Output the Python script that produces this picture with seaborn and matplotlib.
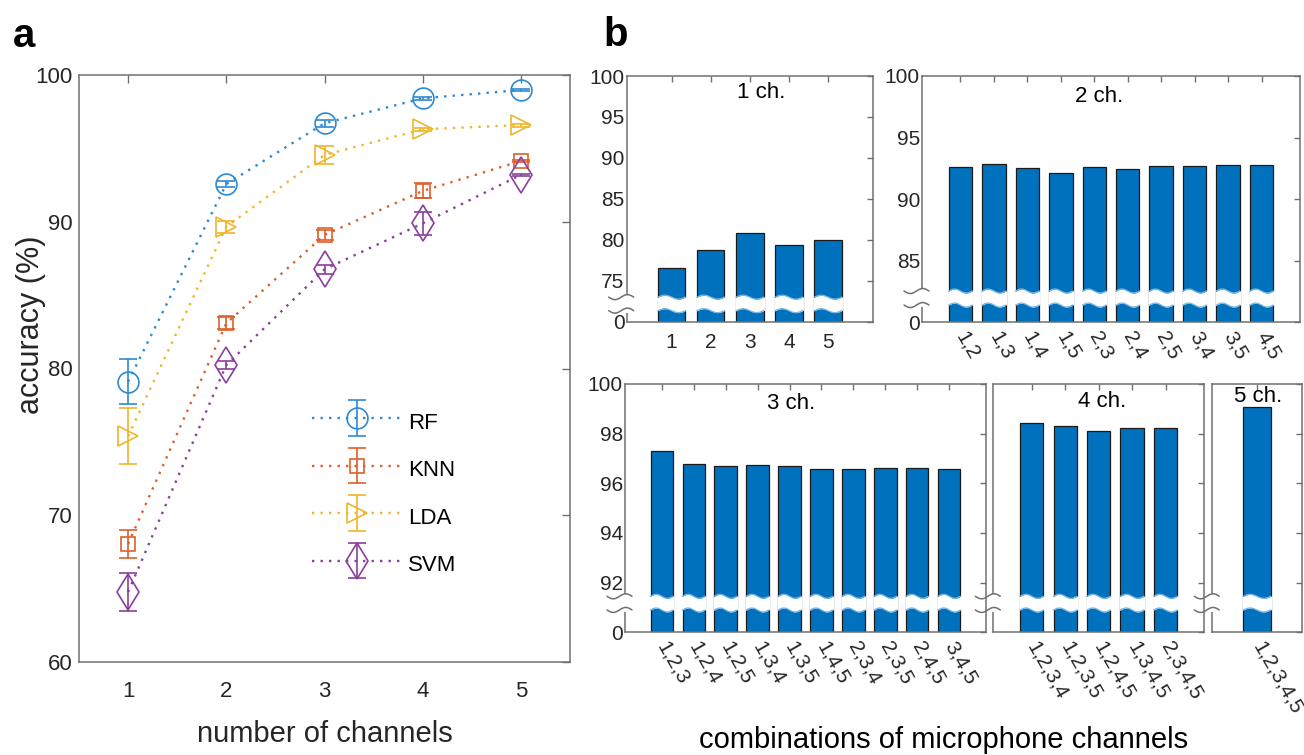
import numpy as np
import pandas as pd
import matplotlib
matplotlib.use("Agg")
import matplotlib.pyplot as plt
from matplotlib.lines import Line2D
from matplotlib.container import ErrorbarContainer
from matplotlib.legend_handler import HandlerErrorbar
import seaborn as sns

# ---------------- data ----------------
channels = [1, 2, 3, 4, 5]
rf_mean = [79.1, 92.57, 96.71, 98.41, 98.98]
rf_err = [1.53, 0.23, 0.23, 0.11, 0.05]
knn_mean = [68.05, 83.08, 89.10, 92.10, 94.14]
knn_err = [0.94, 0.40, 0.34, 0.51, 0.05]
lda_mean = [75.40, 89.66, 94.55, 96.30, 96.59]
lda_err = [1.93, 0.40, 0.59, 0.10, 0.10]
svm_mean = [64.77, 80.24, 86.76, 89.89, 93.20]
svm_err = [1.27, 0.30, 0.30, 0.76, 0.05]

ch1_labels = ["1", "2", "3", "4", "5"]
ch1_acc = [76.6, 78.8, 80.8, 79.4, 80.0]
ch2_labels = ["1,2", "1,3", "1,4", "1,5", "2,3", "2,4", "2,5", "3,4", "3,5", "4,5"]
ch2_acc = [92.61, 92.85, 92.52, 92.12, 92.63, 92.44, 92.69, 92.69, 92.79, 92.77]
ch3_labels = ["1,2,3", "1,2,4", "1,2,5", "1,3,4", "1,3,5",
              "1,4,5", "2,3,4", "2,3,5", "2,4,5", "3,4,5"]
ch3_acc = [97.32, 96.78, 96.69, 96.74, 96.69, 96.58, 96.58, 96.62, 96.61, 96.58]
ch4_labels = ["1,2,3,4", "1,2,3,5", "1,2,4,5", "1,3,4,5", "2,3,4,5"]
ch4_acc = [98.42, 98.32, 98.12, 98.24, 98.24]
ch5_labels = ["1,2,3,4,5"]
ch5_acc = [99.08]

# ---------------- style ----------------
sns.set_theme(style="white")
plt.rcParams["font.family"] = ["Liberation Sans", "DejaVu Sans"]
TEXT = "#262626"
SPINE = "#707070"
BAR = "#0072BD"
plt.rcParams["text.color"] = TEXT
plt.rcParams["xtick.color"] = SPINE
plt.rcParams["ytick.color"] = SPINE
plt.rcParams["xtick.labelcolor"] = TEXT
plt.rcParams["ytick.labelcolor"] = TEXT

W, H = 1304, 755
fig = plt.figure(figsize=(W / 100, H / 100), dpi=100)


def add_axes_px(left, top, right, bottom):
    return fig.add_axes([left / W, 1 - bottom / H, (right - left) / W, (bottom - top) / H])


def style_spines(ax):
    for s in ax.spines.values():
        s.set_visible(True)
        s.set_color(SPINE)
        s.set_linewidth(1.1)


# ---------------- panel a ----------------
axa = add_axes_px(79, 75, 570, 662)
style_spines(axa)
series = [
    ("RF", rf_mean, rf_err, "#2D8AD2", "o", 15),
    ("KNN", knn_mean, knn_err, "#DE5F2A", "s", 10.5),
    ("LDA", lda_mean, lda_err, "#EFB52B", ">", 15),
    ("SVM", svm_mean, svm_err, "#8A3F9C", "d", 18),
]
for name, m, e, c, mk, ms in series:
    axa.errorbar(channels, m, yerr=e, color=c, marker=mk, ms=ms, mfc="none",
                 mec=c, mew=1.2, ls=(0, (1, 2.6)), lw=1.7, capsize=6.5,
                 elinewidth=1.2, capthick=1.2, label=name)
axa.set_xlim(0.5, 5.5)
axa.set_ylim(60, 100)
axa.set_xticks(channels)
axa.set_yticks([60, 70, 80, 90, 100])
axa.tick_params(direction="in", length=6, width=1, top=True, right=True,
                labelsize=16)
axa.tick_params(axis="y", pad=4.5)
axa.tick_params(axis="x", pad=14)
axa.set_xlabel("number of channels", fontsize=21, labelpad=13)
axa.set_ylabel("accuracy (%)", fontsize=22)
axa.yaxis.set_label_coords(-0.068, (662 - 325) / 587)
leg = axa.legend(loc="center left", bbox_to_anchor=(0.475, 0.288), frameon=False,
                 fontsize=16, handlelength=4.0, handleheight=1.6,
                 handletextpad=0.3, labelspacing=0.85, borderpad=0,
                 borderaxespad=0,
                 handler_map={ErrorbarContainer: HandlerErrorbar(yerr_size=0.8)})
for t in leg.get_texts():
    t.set_color("black")


# ---------------- panel b ----------------
def draw_tilde(ax, yfrac):
    pos = ax.get_position()
    xs_px = np.linspace(-18, 7, 40)
    ys_px = -2.5 * np.sin(2 * np.pi * (xs_px + 18) / 25)
    xf = pos.x0 + xs_px / W
    yf = pos.y0 + yfrac * pos.height + ys_px / H
    fig.add_artist(Line2D(xf, yf, transform=fig.transFigure, color=SPINE,
                          lw=1.1, zorder=6))


def bar_panel(ax, labels, values, base, ticks, show_ylabels, title, title_xy,
              gap, rotate):
    style_spines(ax)
    df = pd.DataFrame({"combo": labels, "acc": values})
    sns.barplot(data=df, x="combo", y="acc", ax=ax, color=BAR, saturation=1,
                edgecolor="#1a1a1a", linewidth=0.9, width=0.7)
    n = len(labels)
    ax.set_xlim(-1.15, n - 1 + 1.15)
    ax.set_ylim(base, 100)
    ax.set_yticks(ticks)
    if show_ylabels:
        ax.set_yticklabels(["0"] + [str(t) for t in ticks[1:]])
    else:
        ax.set_yticklabels([])
    ax.set_xticks(range(n))
    if rotate:
        ax.set_xticklabels(labels, rotation=-60, ha="left", va="center",
                           rotation_mode="anchor")
    else:
        ax.set_xticklabels(labels)
    ax.set_xlabel("")
    ax.set_ylabel("")
    ax.tick_params(direction="in", length=4, width=1, top=True, right=True,
                   labelsize=15)
    ax.tick_params(axis="y", pad=1.5)
    ax.tick_params(axis="x", pad=8)
    # white wavy band marking the broken axis
    xt = ax.get_xaxis_transform()
    amp = 0.008
    for p in ax.patches:
        x0, w = p.get_x(), p.get_width()
        xs = np.linspace(x0 - 0.03, x0 + w + 0.03, 60)
        ph = 2 * np.pi * (xs - x0) / w
        lo = gap[0] + amp * np.sin(ph)
        hi = gap[1] + amp * np.sin(ph)
        ax.fill_between(xs, lo, hi, transform=xt, color="white", lw=0, zorder=4)
        ax.plot(xs[2:-2], lo[2:-2], transform=xt, color="#7DB5E3", lw=0.9, zorder=5)
        ax.plot(xs[2:-2], hi[2:-2], transform=xt, color="#7DB5E3", lw=0.9, zorder=5)
    # break marks on the left spine
    pos = ax.get_position()
    fig.add_artist(Line2D([pos.x0, pos.x0],
                          [pos.y0 + gap[0] * pos.height, pos.y0 + gap[1] * pos.height],
                          transform=fig.transFigure, color="white", lw=3, zorder=5))
    draw_tilde(ax, gap[0])
    draw_tilde(ax, gap[1])
    ax.text(title_xy[0], title_xy[1], title, transform=ax.transAxes,
            ha="center", va="center", fontsize=16, color="black")


ax1 = add_axes_px(626.7, 76, 873, 321.7)
bar_panel(ax1, ch1_labels, ch1_acc, 70, [70, 75, 80, 85, 90, 95, 100], True,
          "1 ch.", (0.545, 0.931), (0.045, 0.10), False)
ax2 = add_axes_px(922, 76, 1300, 322.3)
bar_panel(ax2, ch2_labels, ch2_acc, 80, [80, 85, 90, 95, 100], True,
          "2 ch.", (0.468, 0.916), (0.07, 0.127), True)
ax3 = add_axes_px(625, 384, 986, 632.3)
bar_panel(ax3, ch3_labels, ch3_acc, 90, [90, 92, 94, 96, 98, 100], True,
          "3 ch.", (0.46, 0.923), (0.09, 0.145), True)
ax4 = add_axes_px(993.3, 384, 1204, 632.3)
bar_panel(ax4, ch4_labels, ch4_acc, 90, [90, 92, 94, 96, 98, 100], False,
          "4 ch.", (0.516, 0.929), (0.09, 0.145), True)
ax5 = add_axes_px(1212.3, 384, 1301.7, 632.3)
bar_panel(ax5, ch5_labels, ch5_acc, 90, [90, 92, 94, 96, 98, 100], False,
          "5 ch.", (0.511, 0.949), (0.09, 0.145), True)

fig.text(944 / W, 1 - 740 / H, "combinations of microphone channels",
         ha="center", va="center", fontsize=21, color="black")
fig.text(13 / W, 1 - 36 / H, "a", fontsize=29, fontweight="bold",
         ha="left", va="center", color="black")
fig.text(603 / W, 1 - 35 / H, "b", fontsize=29, fontweight="bold",
         ha="left", va="center", color="black")

fig.savefig("out.png", dpi=100)
